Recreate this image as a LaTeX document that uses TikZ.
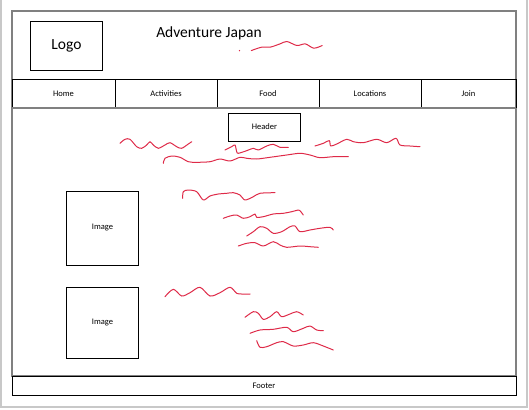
\documentclass[tikz,border=0pt]{standalone}
\usepackage{fontspec}
\setmainfont{Carlito}
\usepackage{tikz}
\usetikzlibrary{calc}
\definecolor{framegray}{RGB}{128,128,128}
\definecolor{pagegray}{RGB}{200,200,200}
\definecolor{scribblered}{RGB}{222,42,72}
\tikzset{
  pageedge/.style={line width=1.2pt,pagegray},
  wireframe/.style={line width=2pt,framegray},
  box/.style={draw=black,line width=1pt,inner sep=0pt,outer sep=0pt},
  bigtext/.style={font=\fontsize{15.5}{18}\selectfont},
  smalltext/.style={font=\fontsize{8.5}{10}\selectfont},
  scribble/.style={scribblered,line width=1pt,line cap=round,line join=round}
}

\begin{document}
\begin{tikzpicture}[x=1pt,y=-1pt]
  \useasboundingbox (0,0) rectangle (529,409);
  % page edge
  \draw[pageedge] (1,0)--(1,407)--(527,407)--(527,0);
  % outer frame
  \draw[wireframe] (12,11) rectangle (516,376);
  % header band
  \node[box,bigtext,minimum width=72pt,minimum height=48.6pt] (logo) at (66.5,46) {Logo};
  \node[bigtext,anchor=base] (title) at (209,38) {Adventure Japan};
  % nav bar
  \foreach \nm/\lab/\xa/\xb in {home/Home/12/115,activities/Activities/115/217,food/Food/217/319,locations/Locations/319/421,join/Join/421/516}{
    \node[box,smalltext,minimum width={\xb-\xa},minimum height=28pt] (\nm) at ({(\xa+\xb)/2},93.5) {\lab};
  }
  \draw[wireframe] (12,107.5)--(516,107.5);
  % body
  \node[box,smalltext,minimum width=72.5pt,minimum height=28pt] (header) at (264.5,127) {Header};
  \node[box,smalltext,minimum width=72.5pt,minimum height=74pt] (image1) at (102.5,228) {Image};
  \node[box,smalltext,minimum width=72.5pt,minimum height=71pt] (image2) at (102.5,322.5) {Image};
  \node[box,smalltext,minimum width=504pt,minimum height=19pt] (footer) at (264,385.7) {Footer};
  % red scribbles
  \fill[scribblered] (239.5,50.6) circle (0.7);
  \draw[scribble] plot[smooth] coordinates {(251.3,50.6) (261.5,47.2) (270,47.2) (280,43.9) (286.8,41.5) (296.9,45.5) (305.3,43.9) (313.8,48.2) (322.2,45.5)};
  \draw[scribble] plot[smooth] coordinates {(120,143.3) (125,139.3) (130,139.3) (136.7,146.7) (141.7,148.3) (146.7,145) (150,141.7) (153.3,145) (158.3,148.3) (165,145) (170,142.7) (176.7,146.7) (181.7,148.3) (188.3,144) (191.7,141.7)};
  \draw[scribble] plot[smooth] coordinates {(225,150) (231.7,146.7) (235,145) (236.7,151.7) (238.3,153.3) (246.7,150.7) (253.3,148.3) (258.3,150) (266.7,146) (273.3,144.3) (280,147.3) (288.3,147.3)};
  \draw[scribble] plot[smooth] coordinates {(315,146) (323.3,143.3) (329.3,140.7) (330.7,146) (336.7,144) (346.7,139.3) (353.3,141.7) (363.3,142.7) (376.7,139.3) (386.7,142.7) (396,138.3) (400,145) (410,146) (420,146.7)};
  \draw[scribble] plot[smooth] coordinates {(163.3,163.3) (165,158.3) (171.7,156) (180,157.3) (188.3,161.7) (196.7,162.3) (210,161.7) (220,159) (230,161) (240,157.3) (246.7,158.3) (256.7,159) (270,157.3) (286.7,155) (300,153.3) (310,155) (320,157.7) (333.3,156.7) (348.3,156.7)};
  \draw[scribble] plot[smooth] coordinates {(182.7,198.3) (183.3,191.7) (188.3,190) (196.7,191.7) (203.3,200) (210,196) (218.3,194) (226.7,193.3) (233.3,192.7) (240,195) (245,200) (253.3,196.7) (260,193.3) (275,192.7)};
  \draw[scribble] plot[smooth] coordinates {(223.3,218.3) (230,216) (236.7,215) (243.3,218.3) (250,216.7) (255,214) (256.7,217.3) (263.3,216.7) (273.3,214) (283.3,213.3) (291.7,211.7) (298.3,210) (300,210.7) (303.3,215)};
  \draw[scribble] plot[smooth] coordinates {(246.7,236) (253.3,231.7) (260,226.7) (266.7,228.3) (273.3,233.3) (281.7,231.7) (290,226.7) (295,226) (300,231.7) (310,230) (320,228.3) (330,227.3) (333.3,230)};
  \draw[scribble] plot[smooth] coordinates {(238.3,246) (246.7,243.3) (255,242.7) (263.3,246) (273.3,241.7) (280,245) (286.7,247.3) (300,246) (310,246.7) (318.3,247.3)};
  \draw[scribble] plot[smooth] coordinates {(165,296.7) (173.3,289.3) (181.7,296) (190,292.7) (200,287.3) (210,296) (220,292.7) (230,287.3) (236.7,293.3) (241.7,294) (250,294)};
  \draw[scribble] plot[smooth] coordinates {(245,317.3) (253.3,311.7) (258.3,313.3) (263.3,319.3) (270,316.7) (276.7,311.7) (281.7,316.7) (290,314) (296.7,311.7) (303.3,315)};
  \draw[scribble] plot[smooth] coordinates {(250,333.3) (260,330) (273.3,329.3) (286.7,327.3) (293.3,331.7) (303.3,328.3) (310,326) (316.7,330) (323.3,330.7)};
  \draw[scribble] plot[smooth] coordinates {(256.7,340.7) (260,347.3) (266.7,346.7) (276.7,342.7) (283.3,341.7) (293.3,346) (303.3,345) (313.3,342.7) (323.3,346) (333.3,350)};
\end{tikzpicture}
\end{document}
